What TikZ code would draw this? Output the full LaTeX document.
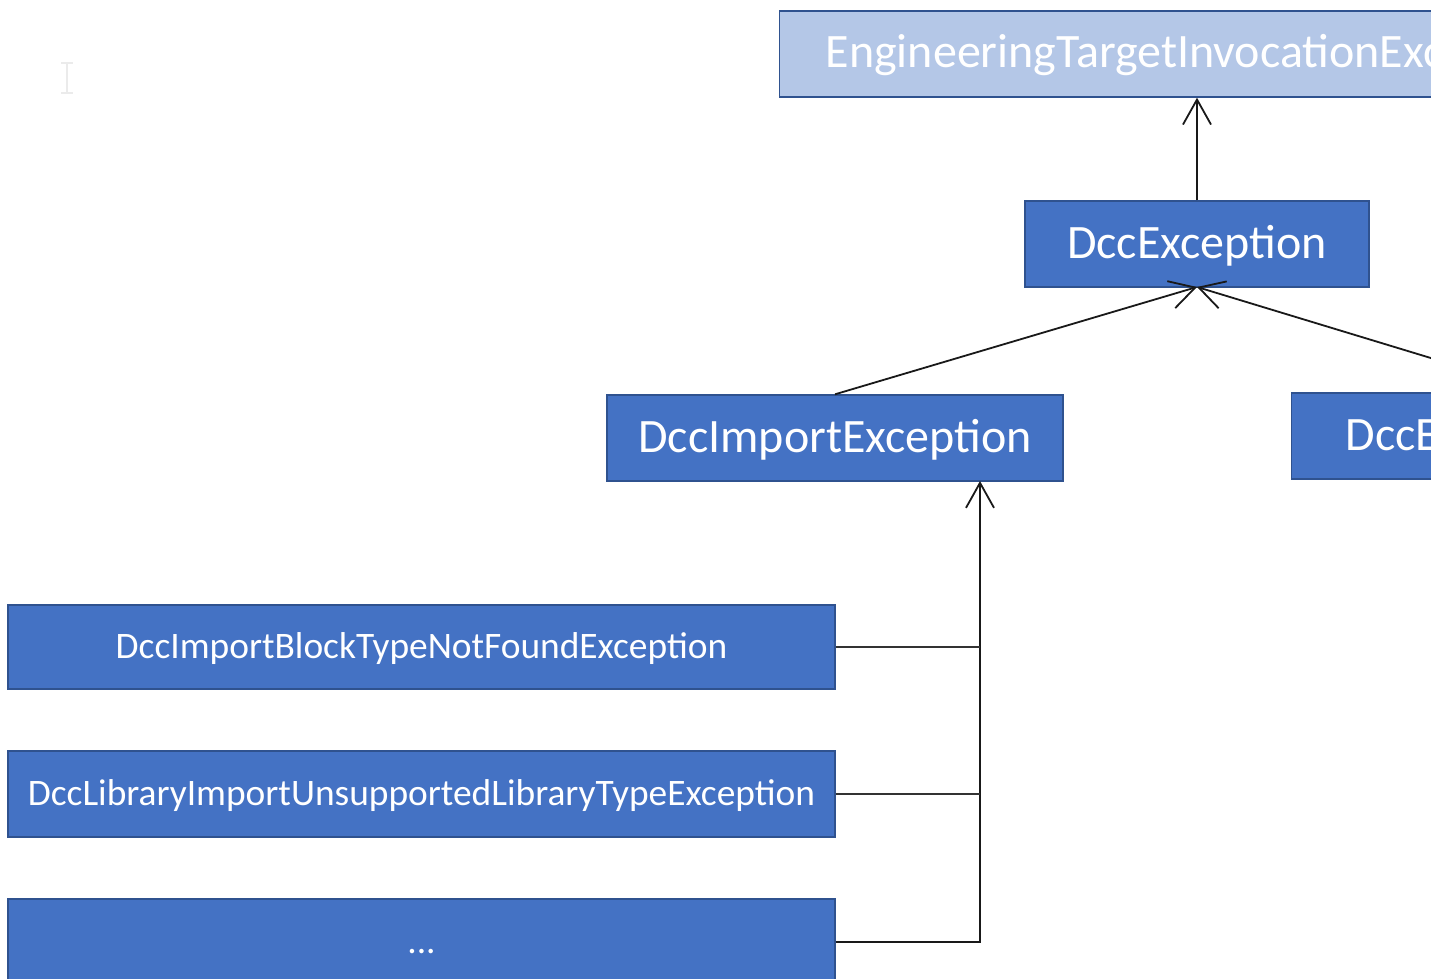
\documentclass[tikz,border=0pt]{standalone}
\usepackage{fontspec}
\setmainfont{Carlito}
\usetikzlibrary{arrows.meta}
\definecolor{officeblue}{HTML}{4472C4}
\definecolor{officeedge}{HTML}{2F528F}
\definecolor{lightblue}{HTML}{B4C7E7}
\tikzset{
  cls/.style={draw=officeedge, line width=0.7pt, fill=officeblue, text=white, inner sep=0pt},
  bigcls/.style={cls, font=\fontsize{24}{28}\selectfont, minimum height=43pt,
    text height=17pt, text depth=3pt},
  smallcls/.style={cls, font=\fontsize{18.7}{22}\selectfont, minimum width=413.5pt,
    text height=13.5pt, text depth=2pt},
  inherit/.style={line width=0.9pt, draw=black!90, -{Straight Barb[length=12.5pt,width=14pt]}},
  link/.style={line width=0.9pt, draw=black!80}
}
\begin{document}
\begin{tikzpicture}[x=0.5pt,y=-0.5pt]
\useasboundingbox (0,0) rectangle (1431,979);
\clip (0,0) rectangle (1431,979);
\fill[white] (0,0) rectangle (1431,979);
% faint text cursor
\draw[black!8, line width=1pt] (61,63) -- (73,63) (67,63) -- (67,93) (61,93) -- (73,93);
% top level classes
\node[bigcls, fill=lightblue, anchor=west, inner xsep=23pt] (eng) at (779,54) {EngineeringTargetInvocationException};
\node[bigcls, minimum width=172pt] (dcc) at (1197,244) {DccException};
\node[bigcls, minimum width=228pt] (imp) at (835,438) {DccImportException};
\node[bigcls, anchor=west, inner xsep=27pt] (exp) at (1291,436) {DccExportException};
% leaf classes
\node[smallcls, minimum height=42pt] (b1) at (421.5,647) {DccImportBlockTypeNotFoundException};
\node[smallcls, minimum height=43pt] (b2) at (421.5,794) {DccLibraryImportUnsupportedLibraryTypeException};
\node[smallcls, minimum height=43pt] (b3) at (421.5,942) {...};
% connectors
\coordinate (impin) at (980,481);
\coordinate (dccin) at (1197,287);
\coordinate (expout) at (1546,393);
\draw[inherit] (dcc.north) -- (eng.south -| dcc.north);
\draw[inherit] (imp.north) -- (dccin);
\draw[inherit] (expout) -- (dccin);
\draw[inherit] (b3.east) -| (impin);
\draw[link] (b1.east) -- (b1.east -| impin);
\draw[link] (b2.east) -- (b2.east -| impin);
\end{tikzpicture}
\end{document}
